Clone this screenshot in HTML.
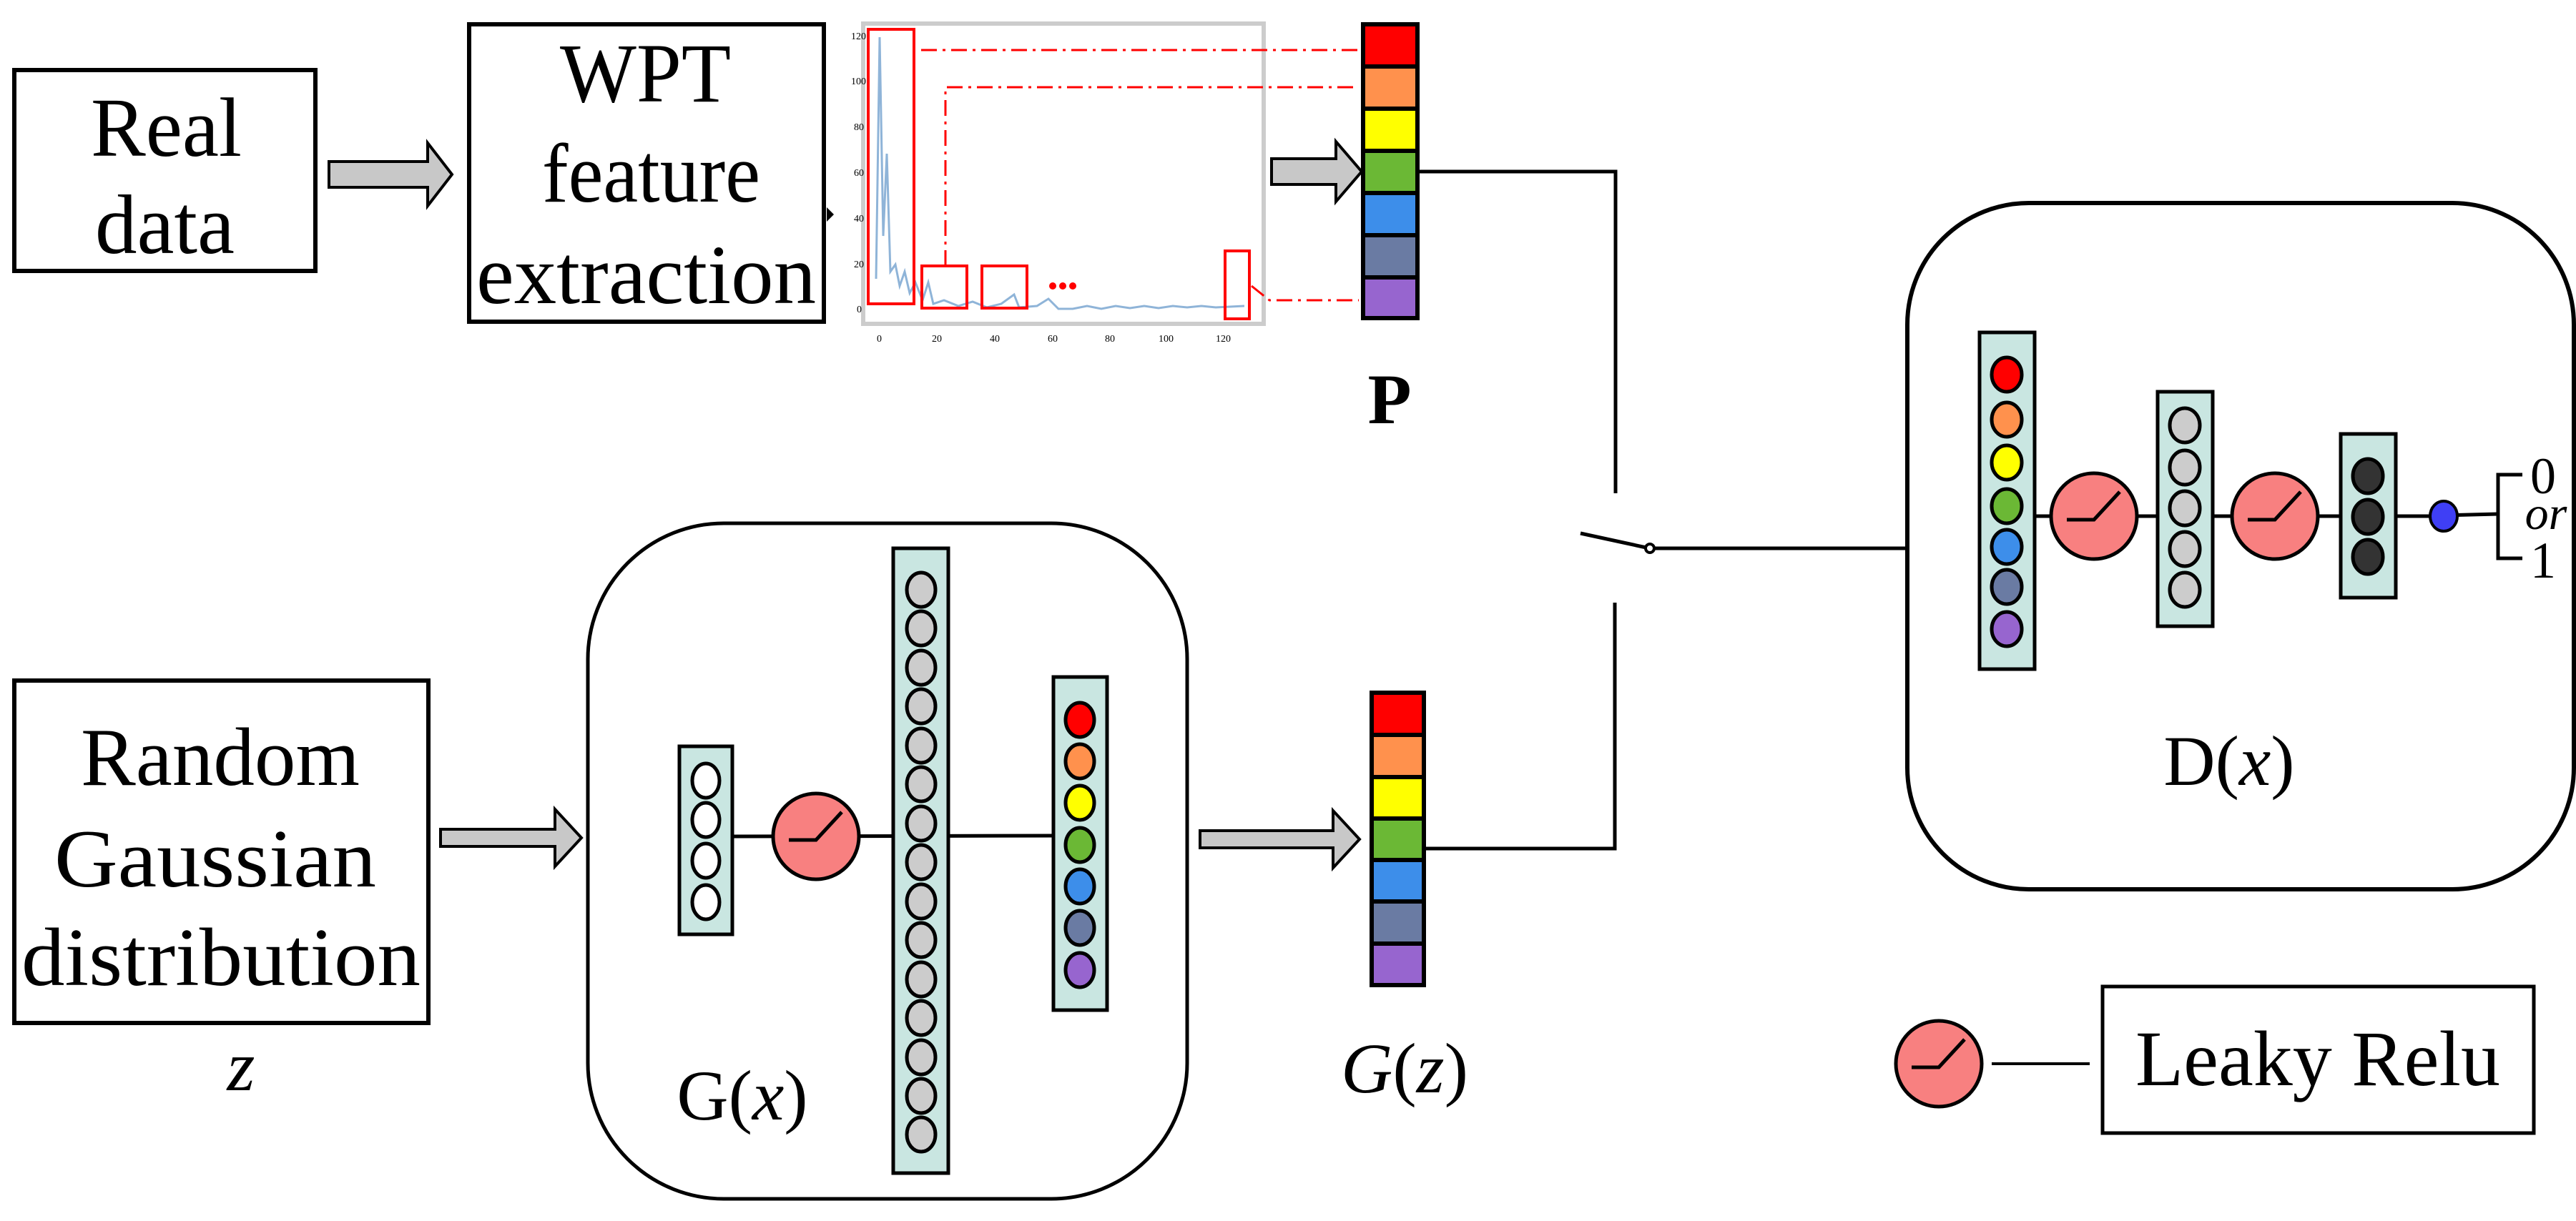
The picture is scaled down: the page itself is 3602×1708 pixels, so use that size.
<!DOCTYPE html>
<html><head><meta charset="utf-8"><style>
html,body{margin:0;padding:0;background:#fff;}
svg{display:block;}
text{font-family:"Liberation Serif",serif;fill:#000;}
</style></head><body>
<svg width="3602" height="1708" viewBox="0 0 3602 1708" xmlns="http://www.w3.org/2000/svg">
<defs>
<g id="relu"><circle r="60" fill="#f88080" stroke="#000" stroke-width="5"/><polyline points="-38,5 0,5 36,-34" fill="none" stroke="#000" stroke-width="5"/></g>
</defs>

<!-- Real data -->
<rect x="20" y="98" width="421" height="281" fill="#fff" stroke="#000" stroke-width="6"/>
<text x="127" y="218" font-size="118" textLength="211" lengthAdjust="spacingAndGlyphs">Real</text>
<text x="133" y="354" font-size="118" textLength="195" lengthAdjust="spacingAndGlyphs">data</text>

<!-- arrow 1 -->
<polygon points="460,226 598,226 598,200 632,244 598,288 598,262 460,262" fill="#c8c8c8" stroke="#000" stroke-width="4"/>

<!-- WPT -->
<rect x="656" y="34" width="496" height="416" fill="#fff" stroke="#000" stroke-width="6"/>
<text x="783" y="142" font-size="118" textLength="239" lengthAdjust="spacingAndGlyphs">WPT</text>
<text x="758" y="282" font-size="118" textLength="305" lengthAdjust="spacingAndGlyphs">feature</text>
<text x="666" y="424" font-size="118" textLength="475" lengthAdjust="spacingAndGlyphs">extraction</text>
<polygon points="1156,290 1166,300 1156,310" fill="#000"/>

<!-- plot -->
<rect x="1207" y="33" width="560" height="420" fill="#fff" stroke="#ccc" stroke-width="6"/>
<g font-size="14">
<text x="1190" y="55" fill="#777">120</text><text x="1190" y="118" fill="#777">100</text><text x="1194" y="182" fill="#777">80</text><text x="1194" y="246" fill="#777">60</text><text x="1194" y="310" fill="#777">40</text><text x="1194" y="374" fill="#777">20</text><text x="1198" y="437" fill="#777">0</text>
<text x="1226" y="478" fill="#777">0</text><text x="1303" y="478" fill="#777">20</text><text x="1384" y="478" fill="#777">40</text><text x="1465" y="478" fill="#777">60</text><text x="1545" y="478" fill="#777">80</text><text x="1620" y="478" fill="#777">100</text><text x="1700" y="478" fill="#777">120</text>
</g>
<polyline points="1225,390 1230,52 1235,330 1240,215 1245,380 1252,370 1258,400 1265,380 1272,410 1280,395 1290,420 1298,395 1305,425 1320,420 1340,428 1360,422 1380,430 1400,425 1418,412 1425,430 1450,428 1466,418 1480,432 1500,432 1520,428 1540,432 1560,428 1580,431 1600,428 1620,431 1640,428 1660,430 1680,428 1700,430 1740,428" fill="none" stroke="#8fb4d8" stroke-width="3"/>
<g fill="none" stroke="#f00" stroke-width="4">
<rect x="1214" y="41" width="64" height="384"/>
<rect x="1289" y="372" width="63" height="59"/>
<rect x="1373" y="372" width="63" height="59"/>
<rect x="1713" y="351" width="34" height="95"/>
</g>
<g fill="none" stroke="#f00" stroke-width="3" stroke-dasharray="22,8,4,8">
<line x1="1288" y1="70" x2="1900" y2="70"/>
<polyline points="1322,372 1322,122 1900,122"/>
<polyline points="1750,400 1775,420 1900,420"/>
</g>
<g fill="#f00"><circle cx="1472" cy="400" r="5"/><circle cx="1486" cy="400" r="5"/><circle cx="1500" cy="400" r="5"/></g>

<!-- arrow 2 -->
<polygon points="1778,222 1868,222 1868,198 1904,240 1868,282 1868,258 1778,258" fill="#c8c8c8" stroke="#000" stroke-width="4"/>

<!-- P bar -->
<g stroke="#000" stroke-width="6">
<rect x="1906" y="34" width="76" height="59" fill="#f00"/>
<rect x="1906" y="93" width="76" height="59" fill="#ff914d"/>
<rect x="1906" y="152" width="76" height="59" fill="#ff0"/>
<rect x="1906" y="211" width="76" height="59" fill="#6bb835"/>
<rect x="1906" y="270" width="76" height="59" fill="#3d8eea"/>
<rect x="1906" y="329" width="76" height="59" fill="#6a7ba3"/>
<rect x="1906" y="388" width="76" height="57" fill="#9765cf"/>
</g>
<text x="1943" y="592" font-size="100" font-weight="bold" text-anchor="middle">P</text>

<!-- switch wiring -->
<g fill="none" stroke="#000" stroke-width="5">
<polyline points="1982,240 2259,240 2259,690"/>
<line x1="2210" y1="746" x2="2302" y2="766"/>
<line x1="2313" y1="767" x2="2668" y2="767"/>
<polyline points="2258,843 2258,1187 1990,1187"/>
</g>
<circle cx="2307" cy="767" r="6" fill="#fff" stroke="#000" stroke-width="4"/>

<!-- D box -->
<rect x="2667" y="284" width="932" height="960" rx="170" fill="#fff" stroke="#000" stroke-width="6"/>
<line x1="2845" y1="722" x2="3417" y2="722" stroke="#000" stroke-width="5"/>
<line x1="3417" y1="721" x2="3493" y2="719" stroke="#000" stroke-width="5"/>
<rect x="2768" y="465" width="77" height="471" fill="#c9e6e1" stroke="#000" stroke-width="5"/>
<g stroke="#000" stroke-width="5">
<ellipse cx="2806" cy="524" rx="21" ry="24" fill="#f00"/>
<ellipse cx="2806" cy="587" rx="21" ry="24" fill="#ff914d"/>
<ellipse cx="2806" cy="647" rx="21" ry="24" fill="#ff0"/>
<ellipse cx="2806" cy="708" rx="21" ry="24" fill="#6bb835"/>
<ellipse cx="2806" cy="765" rx="21" ry="24" fill="#3d8eea"/>
<ellipse cx="2806" cy="821" rx="21" ry="24" fill="#6a7ba3"/>
<ellipse cx="2806" cy="880" rx="21" ry="24" fill="#9765cf"/>
</g>
<use href="#relu" x="2928" y="722"/>
<rect x="3017" y="548" width="77" height="328" fill="#c9e6e1" stroke="#000" stroke-width="5"/>
<g stroke="#000" stroke-width="5" fill="#ccc">
<ellipse cx="3055" cy="595" rx="21" ry="24"/><ellipse cx="3055" cy="654" rx="21" ry="24"/><ellipse cx="3055" cy="711" rx="21" ry="24"/><ellipse cx="3055" cy="768" rx="21" ry="24"/><ellipse cx="3055" cy="825" rx="21" ry="24"/>
</g>
<use href="#relu" x="3181" y="722"/>
<rect x="3273" y="607" width="77" height="229" fill="#c9e6e1" stroke="#000" stroke-width="5"/>
<g stroke="#000" stroke-width="5" fill="#333">
<ellipse cx="3311" cy="666" rx="21" ry="24"/><ellipse cx="3311" cy="723" rx="21" ry="24"/><ellipse cx="3311" cy="779" rx="21" ry="24"/>
</g>
<ellipse cx="3417" cy="722" rx="19" ry="21" fill="#3f3ff5" stroke="#000" stroke-width="4"/>
<polyline points="3527,664 3493,664 3493,781 3527,781" fill="none" stroke="#000" stroke-width="5"/>
<text x="3556" y="690" font-size="72" text-anchor="middle">0</text>
<text x="3560" y="740" font-size="66" font-style="italic" text-anchor="middle">or</text>
<text x="3556" y="808" font-size="72" text-anchor="middle">1</text>
<text x="3117" y="1098" font-size="100" text-anchor="middle">D(<tspan font-style="italic">x</tspan>)</text>

<!-- legend -->
<use href="#relu" x="2711" y="1488"/>
<line x1="2785" y1="1488" x2="2922" y2="1488" stroke="#000" stroke-width="4"/>
<rect x="2940" y="1380" width="603" height="205" fill="#fff" stroke="#000" stroke-width="5"/>
<text x="3241" y="1518" font-size="110" text-anchor="middle">Leaky Relu</text>

<!-- Random Gaussian -->
<rect x="20" y="952" width="579" height="479" fill="#fff" stroke="#000" stroke-width="6"/>
<text x="113" y="1098" font-size="116" textLength="390" lengthAdjust="spacingAndGlyphs">Random</text>
<text x="76" y="1240" font-size="116" textLength="450" lengthAdjust="spacingAndGlyphs">Gaussian</text>
<text x="30" y="1378" font-size="116" textLength="558" lengthAdjust="spacingAndGlyphs">distribution</text>
<text x="337" y="1525" font-size="100" font-style="italic" text-anchor="middle">z</text>

<!-- arrow 3 -->
<polygon points="616,1160 776,1160 776,1132 813,1172 776,1212 776,1184 616,1184" fill="#c8c8c8" stroke="#000" stroke-width="4"/>

<!-- G box -->
<rect x="822" y="732" width="838" height="945" rx="190" fill="#fff" stroke="#000" stroke-width="5"/>
<line x1="1024" y1="1170" x2="1473" y2="1169" stroke="#000" stroke-width="5"/>
<rect x="950" y="1044" width="74" height="263" fill="#c9e6e1" stroke="#000" stroke-width="5"/>
<g stroke="#000" stroke-width="5" fill="#fff">
<ellipse cx="987" cy="1092" rx="19" ry="24"/><ellipse cx="987" cy="1147" rx="19" ry="24"/><ellipse cx="987" cy="1204" rx="19" ry="24"/><ellipse cx="987" cy="1262" rx="19" ry="24"/>
</g>
<use href="#relu" x="1141" y="1170"/>
<rect x="1249" y="767" width="77" height="874" fill="#c9e6e1" stroke="#000" stroke-width="5"/>
<g stroke="#000" stroke-width="5" fill="#ccc">
<ellipse cx="1288" cy="825" rx="20" ry="24"/><ellipse cx="1288" cy="879" rx="20" ry="24"/><ellipse cx="1288" cy="934" rx="20" ry="24"/><ellipse cx="1288" cy="988" rx="20" ry="24"/><ellipse cx="1288" cy="1043" rx="20" ry="24"/><ellipse cx="1288" cy="1097" rx="20" ry="24"/><ellipse cx="1288" cy="1152" rx="20" ry="24"/><ellipse cx="1288" cy="1206" rx="20" ry="24"/><ellipse cx="1288" cy="1261" rx="20" ry="24"/><ellipse cx="1288" cy="1315" rx="20" ry="24"/><ellipse cx="1288" cy="1370" rx="20" ry="24"/><ellipse cx="1288" cy="1424" rx="20" ry="24"/><ellipse cx="1288" cy="1479" rx="20" ry="24"/><ellipse cx="1288" cy="1533" rx="20" ry="24"/><ellipse cx="1288" cy="1587" rx="20" ry="24"/>
</g>
<rect x="1473" y="947" width="75" height="466" fill="#c9e6e1" stroke="#000" stroke-width="5"/>
<g stroke="#000" stroke-width="5">
<ellipse cx="1510" cy="1007" rx="20" ry="24" fill="#f00"/>
<ellipse cx="1510" cy="1065" rx="20" ry="24" fill="#ff914d"/>
<ellipse cx="1510" cy="1123" rx="20" ry="24" fill="#ff0"/>
<ellipse cx="1510" cy="1182" rx="20" ry="24" fill="#6bb835"/>
<ellipse cx="1510" cy="1240" rx="20" ry="24" fill="#3d8eea"/>
<ellipse cx="1510" cy="1298" rx="20" ry="24" fill="#6a7ba3"/>
<ellipse cx="1510" cy="1357" rx="20" ry="24" fill="#9765cf"/>
</g>
<text x="1038" y="1566" font-size="100" text-anchor="middle">G(<tspan font-style="italic">x</tspan>)</text>

<!-- arrow 4 -->
<polygon points="1678,1162 1864,1162 1864,1134 1901,1174 1864,1214 1864,1186 1678,1186" fill="#c8c8c8" stroke="#000" stroke-width="4"/>

<!-- G(z) bar -->
<g stroke="#000" stroke-width="6">
<rect x="1918" y="969" width="73" height="59" fill="#f00"/>
<rect x="1918" y="1028" width="73" height="59" fill="#ff914d"/>
<rect x="1918" y="1087" width="73" height="58" fill="#ff0"/>
<rect x="1918" y="1145" width="73" height="58" fill="#6bb835"/>
<rect x="1918" y="1203" width="73" height="58" fill="#3d8eea"/>
<rect x="1918" y="1261" width="73" height="59" fill="#6a7ba3"/>
<rect x="1918" y="1320" width="73" height="58" fill="#9765cf"/>
</g>
<text x="1964" y="1528" font-size="100" text-anchor="middle"><tspan font-style="italic">G</tspan>(<tspan font-style="italic">z</tspan>)</text>
</svg>
</body></html>
